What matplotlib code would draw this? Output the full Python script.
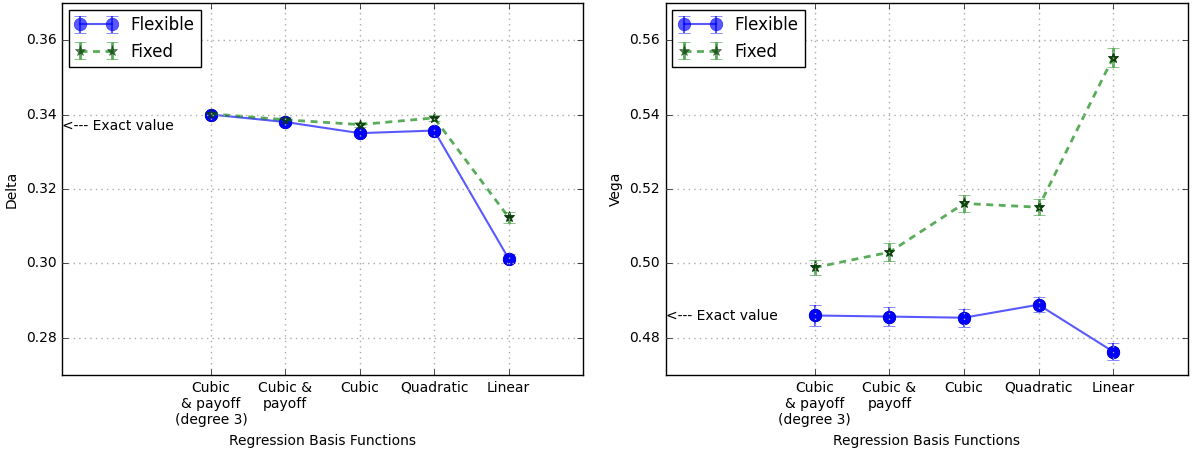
import numpy as np
import matplotlib
matplotlib.use('Agg')
import matplotlib.pyplot as plt

plt.style.use('classic')

basis = ['Cubic\n& payoff\n(degree 3)', 'Cubic &\npayoff', 'Cubic', 'Quadratic', 'Linear']

delta_flex = [0.3400, 0.3380, 0.3350, 0.3357, 0.3013]
delta_flex_err = [0.0007, 0.0008, 0.0007, 0.0007, 0.0013]
delta_fixed = [0.3402, 0.3386, 0.3373, 0.3391, 0.3124]
delta_fixed_err = [0.0006, 0.0008, 0.0007, 0.0008, 0.0015]
delta_exact = 0.3370

vega_flex = [0.4860, 0.4857, 0.4854, 0.4889, 0.4763]
vega_flex_err = [0.0028, 0.0025, 0.0024, 0.0021, 0.0024]
vega_fixed = [0.4989, 0.5030, 0.5161, 0.5151, 0.5553]
vega_fixed_err = [0.0019, 0.0024, 0.0024, 0.0021, 0.0025]
vega_exact = 0.4858

x = np.arange(len(basis))

fig = plt.figure(figsize=(11.93, 4.51), dpi=100, facecolor='white')
ax1 = fig.add_axes([0.052, 0.1685, 0.4367, 0.825])
ax2 = fig.add_axes([0.558, 0.1685, 0.4375, 0.825])

panels = [(ax1, delta_flex, delta_flex_err, delta_fixed, delta_fixed_err, delta_exact, 'Delta', (0.27, 0.37)),
          (ax2, vega_flex, vega_flex_err, vega_fixed, vega_fixed_err, vega_exact, 'Vega', (0.47, 0.57))]

for ax, fl, fle, fx, fxe, exact, name, ylim in panels:
    ax.errorbar(x, fl, yerr=fle, fmt='-o', color='b', mec='b', markersize=9, lw=1.5,
                alpha=0.65, capsize=4, label='Flexible')
    ax.errorbar(x, fx, yerr=fxe, fmt='--*', color='g', mfc='#0d3d0d', mec='#0d3d0d',
                markersize=8, alpha=0.65, capsize=4, lw=2, dashes=(5, 4), label='Fixed')
    # solid markers on top of the translucent lines
    ax.plot(x, fl, 'o', color='b', mec='#00008b', markersize=9, mew=0.5)
    ax.plot(x, fx, '*', color='#0d3d0d', mec='#0d3d0d', markersize=8)
    ax.set_xlim(-2, 5)
    ax.set_ylim(*ylim)
    ax.set_yticks(np.arange(ylim[0] + 0.01, ylim[1] - 0.001, 0.02))
    ax.yaxis.set_major_formatter(matplotlib.ticker.FormatStrFormatter('%.2f'))
    ax.set_xticks(x)
    ax.set_xticklabels(basis, fontsize=10)
    ax.tick_params(axis='y', labelsize=10)
    ax.grid(True, color='#aaaaaa', linestyle=':', lw=1)
    ax.set_xlabel('Regression Basis Functions', fontsize=10)
    ax.set_ylabel(name, fontsize=10)
    ax.text(-2, exact, '<--- Exact value', fontsize=10, va='center', ha='left')
    ax.legend(loc='upper left', numpoints=2, fontsize=12, fancybox=False,
              handlelength=2.5, borderaxespad=0.4)

fig.savefig('out.png', dpi=100, facecolor='white')
